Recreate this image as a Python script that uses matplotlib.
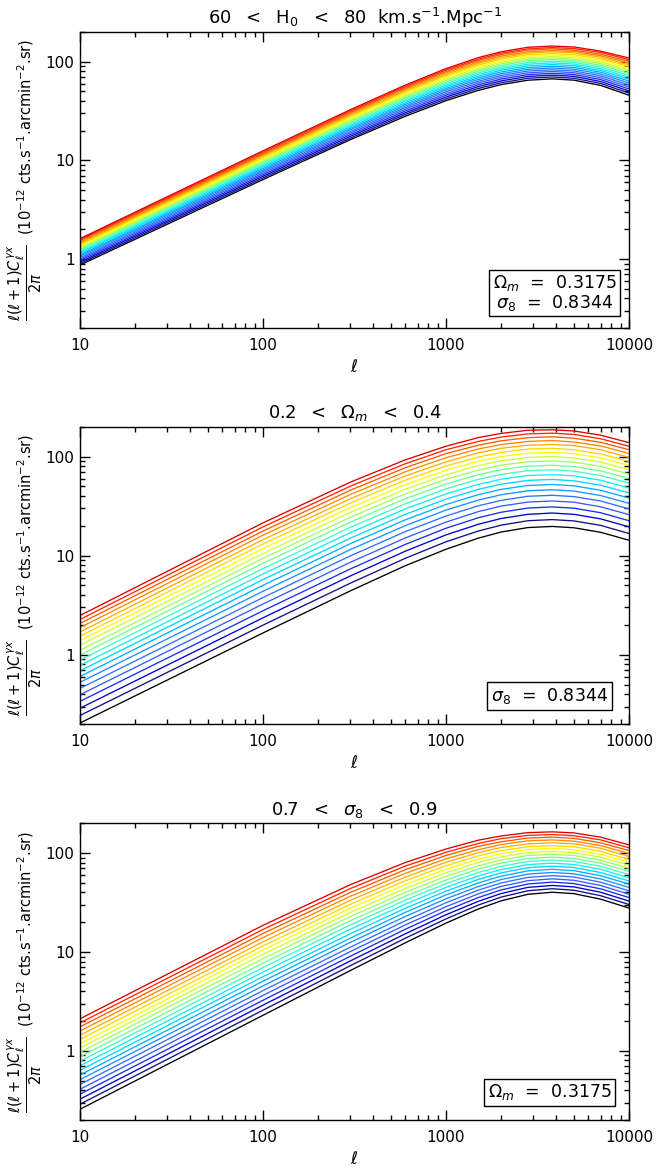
import numpy as np
import matplotlib
matplotlib.use('Agg')
import matplotlib.pyplot as plt
from matplotlib.ticker import LogLocator, NullFormatter, FixedLocator, FixedFormatter

# multipoles at which the curves are read
ell = [10, 100, 300, 600, 1000, 1500, 2000, 2800, 3800, 5000, 7000, 10000]

# Panel 1: H0 = 60 ... 80 km/s/Mpc
h0_vals = list(range(60, 81))
h0_curves = [
    [0.87, 6.39, 16.2, 28, 40.3, 51.2, 58.6, 64.9, 67, 65, 57.5, 45.7],
    [0.901, 6.64, 16.8, 29.2, 42, 53.5, 61.2, 67.9, 70, 67.9, 60.2, 48],
    [0.933, 6.9, 17.5, 30.4, 43.8, 55.9, 63.9, 70.9, 73.1, 71, 63, 50.4],
    [0.966, 7.16, 18.2, 31.7, 45.7, 58.3, 66.7, 74, 76.3, 74.1, 65.9, 52.9],
    [0.999, 7.43, 18.9, 33, 47.6, 60.8, 69.6, 77.1, 79.6, 77.3, 68.8, 55.5],
    [1.03, 7.7, 19.6, 34.3, 49.6, 63.3, 72.5, 80.4, 82.9, 80.5, 71.9, 58.1],
    [1.07, 7.97, 20.4, 35.6, 51.6, 65.9, 75.5, 83.7, 86.4, 83.9, 75, 60.9],
    [1.1, 8.26, 21.1, 37, 53.6, 68.6, 78.6, 87.1, 89.9, 87.4, 78.2, 63.7],
    [1.14, 8.55, 21.9, 38.4, 55.8, 71.4, 81.8, 90.7, 93.5, 90.9, 81.5, 66.6],
    [1.17, 8.84, 22.7, 39.9, 57.9, 74.2, 85, 94.3, 97.3, 94.5, 84.8, 69.6],
    [1.21, 9.14, 23.5, 41.4, 60.1, 77.1, 88.3, 97.9, 101, 98.3, 88.3, 72.7],
    [1.25, 9.45, 24.4, 42.9, 62.4, 80, 91.7, 102, 105, 102, 91.8, 75.9],
    [1.29, 9.76, 25.2, 44.4, 64.7, 83, 95.2, 106, 109, 106, 95.5, 79.1],
    [1.32, 10.1, 26.1, 46, 67.1, 86.1, 98.8, 110, 113, 110, 99.2, 82.5],
    [1.36, 10.4, 26.9, 47.6, 69.5, 89.3, 102, 114, 117, 114, 103, 86],
    [1.4, 10.7, 27.8, 49.3, 72, 92.5, 106, 118, 121, 118, 107, 89.5],
    [1.44, 11.1, 28.7, 50.9, 74.5, 95.8, 110, 122, 126, 123, 111, 93.2],
    [1.48, 11.4, 29.7, 52.7, 77.1, 99.2, 114, 126, 130, 127, 115, 96.9],
    [1.53, 11.7, 30.6, 54.4, 79.7, 103, 118, 131, 135, 131, 119, 101],
    [1.57, 12.1, 31.6, 56.2, 82.4, 106, 122, 135, 139, 136, 124, 105],
    [1.61, 12.5, 32.6, 58, 85.1, 110, 126, 140, 144, 141, 128, 109],
]

# Panel 2: Omega_m = 0.20 ... 0.40
om_vals = [0.20, 0.21, 0.22, 0.23, 0.24, 0.25, 0.26, 0.27, 0.28, 0.29, 0.30,
           0.31, 0.32, 0.33, 0.34, 0.35, 0.36, 0.37, 0.38, 0.39, 0.40]
om_curves = [
    [0.205, 1.66, 4.41, 7.92, 11.6, 15, 17.3, 19.2, 19.7, 19.1, 17.2, 14.3],
    [0.244, 1.99, 5.27, 9.41, 13.8, 17.7, 20.3, 22.5, 23.1, 22.4, 20.2, 16.7],
    [0.289, 2.36, 6.24, 11.1, 16.2, 20.7, 23.7, 26.1, 26.9, 26.1, 23.5, 19.5],
    [0.339, 2.78, 7.34, 13, 18.9, 24.1, 27.4, 30.2, 31, 30.1, 27.1, 22.5],
    [0.395, 3.25, 8.57, 15.1, 21.8, 27.8, 31.6, 34.7, 35.6, 34.6, 31.1, 25.9],
    [0.458, 3.78, 9.94, 17.5, 25.1, 31.8, 36.1, 39.7, 40.6, 39.4, 35.6, 29.6],
    [0.528, 4.37, 11.5, 20.1, 28.8, 36.3, 41.1, 45.1, 46.2, 44.8, 40.4, 33.7],
    [0.604, 5.02, 13.2, 23, 32.8, 41.2, 46.6, 51, 52.2, 50.6, 45.7, 38.1],
    [0.689, 5.74, 15, 26.1, 37.2, 46.6, 52.6, 57.4, 58.7, 56.9, 51.4, 43],
    [0.782, 6.53, 17.1, 29.6, 42, 52.4, 59, 64.3, 65.7, 63.8, 57.7, 48.2],
    [0.883, 7.41, 19.3, 33.4, 47.2, 58.8, 66, 71.9, 73.4, 71.2, 64.4, 53.9],
    [0.994, 8.36, 21.8, 37.5, 52.8, 65.6, 73.6, 80, 81.6, 79.2, 71.7, 60],
    [1.11, 9.4, 24.4, 42, 58.9, 73, 81.8, 88.7, 90.4, 87.8, 79.5, 66.6],
    [1.25, 10.5, 27.3, 46.8, 65.5, 81, 90.5, 98, 99.9, 97, 87.9, 73.7],
    [1.39, 11.8, 30.5, 52, 72.6, 89.5, 99.9, 108, 110, 107, 96.8, 81.2],
    [1.54, 13.1, 33.9, 57.7, 80.3, 98.7, 110, 119, 121, 117, 106, 89.4],
    [1.7, 14.5, 37.5, 63.7, 88.4, 109, 121, 130, 132, 129, 117, 98],
    [1.88, 16.1, 41.4, 70.2, 97.2, 119, 132, 142, 145, 140, 128, 107],
    [2.07, 17.7, 45.7, 77.2, 107, 130, 144, 155, 158, 153, 139, 117],
    [2.27, 19.5, 50.2, 84.6, 117, 142, 157, 169, 172, 167, 151, 127],
    [2.49, 21.4, 55.1, 92.6, 127, 155, 171, 184, 186, 181, 164, 138],
]

# Panel 3: sigma_8 = 0.70 ... 0.90
s8_vals = [0.70, 0.71, 0.72, 0.73, 0.74, 0.75, 0.76, 0.77, 0.78, 0.79, 0.80,
           0.81, 0.82, 0.83, 0.84, 0.85, 0.86, 0.87, 0.88, 0.89, 0.90]
s8_curves = [
    [0.257, 2.29, 6.49, 12.4, 19.6, 27.2, 32.9, 38.3, 40.2, 38.9, 34.2, 27.8],
    [0.289, 2.58, 7.26, 13.8, 21.6, 29.8, 35.9, 41.6, 43.6, 42.1, 37.1, 30.2],
    [0.325, 2.9, 8.12, 15.3, 23.8, 32.5, 39, 45, 47.1, 45.5, 40.2, 32.7],
    [0.365, 3.25, 9.06, 17, 26.2, 35.5, 42.4, 48.7, 50.9, 49.2, 43.5, 35.5],
    [0.409, 3.64, 10.1, 18.8, 28.7, 38.7, 46, 52.6, 54.9, 53.1, 47, 38.4],
    [0.458, 4.07, 11.2, 20.7, 31.5, 42.2, 49.9, 56.8, 59.2, 57.3, 50.8, 41.5],
    [0.512, 4.54, 12.5, 22.9, 34.5, 45.9, 54, 61.3, 63.7, 61.7, 54.8, 44.9],
    [0.571, 5.07, 13.8, 25.2, 37.8, 49.9, 58.4, 66.1, 68.6, 66.4, 59.1, 48.5],
    [0.636, 5.64, 15.3, 27.7, 41.3, 54.1, 63.1, 71.1, 73.7, 71.4, 63.6, 52.3],
    [0.708, 6.27, 17, 30.5, 45.1, 58.7, 68.2, 76.5, 79.1, 76.7, 68.5, 56.3],
    [0.787, 6.97, 18.8, 33.5, 49.1, 63.6, 73.5, 82.2, 84.9, 82.3, 73.6, 60.6],
    [0.873, 7.73, 20.7, 36.7, 53.5, 68.8, 79.2, 88.2, 91, 88.3, 79.1, 65.2],
    [0.967, 8.56, 22.8, 40.2, 58.2, 74.4, 85.3, 94.6, 97.5, 94.6, 84.8, 70],
    [1.07, 9.47, 25.1, 44, 63.3, 80.4, 91.7, 101, 104, 101, 91, 75.2],
    [1.18, 10.5, 27.7, 48.1, 68.7, 86.8, 98.6, 109, 112, 108, 97.5, 80.6],
    [1.31, 11.5, 30.4, 52.6, 74.6, 93.6, 106, 116, 119, 116, 104, 86.4],
    [1.44, 12.7, 33.3, 57.3, 80.8, 101, 114, 124, 127, 124, 112, 92.5],
    [1.59, 14, 36.6, 62.5, 87.5, 108, 122, 133, 136, 132, 119, 99],
    [1.75, 15.4, 40, 68, 94.6, 117, 130, 142, 145, 141, 127, 106],
    [1.92, 16.9, 43.8, 74, 102, 125, 140, 151, 154, 150, 136, 113],
    [2.11, 18.6, 47.9, 80.4, 110, 135, 149, 161, 164, 160, 145, 121],
]

titles = [r'60  $<$  H$_0$  $<$  80  km.s$^{-1}$.Mpc$^{-1}$',
          r'0.2  $<$  $\Omega_m$  $<$  0.4',
          r'0.7  $<$  $\sigma_8$  $<$  0.9']
boxes = [r'$\Omega_m$  =  0.3175' + '\n' + r'$\sigma_8$  =  0.8344',
         r'$\sigma_8$  =  0.8344',
         r'$\Omega_m$  =  0.3175']
x_ticks = [10, 100, 1000, 10000]
x_ticklabels = ['10', '100', '1000', '10000']
y_ticks = [1, 10, 100]
y_ticklabels = ['1', '10', '100']

curve_colors = ['#000000', '#10108a', '#0000d0', '#1a2ef0', '#3a5aff', '#3070ff',
                '#1a90ff', '#00b0ff', '#00d8ff', '#10f0f0', '#40ffc0', '#70ff90',
                '#a0ff60', '#d0ff30', '#ffff00', '#ffd800', '#ffb000', '#ff8800',
                '#ff5a00', '#ff2800', '#dd0000']

fig = plt.figure(figsize=(6.57, 11.68), dpi=100)
axes_pos = [[0.1218, 0.7192, 0.8356, 0.2534],
            [0.1218, 0.3801, 0.8356, 0.2546],
            [0.1218, 0.0411, 0.8356, 0.2540]]
panels = [h0_curves, om_curves, s8_curves]
box_xy = [(0.864, 0.118), (0.855, 0.094), (0.855, 0.093)]

ylab = (r'$\dfrac{\ell(\ell+1)C_\ell^{\gamma x}}{2\pi}$' +
        r'  (10$^{-12}$ cts.s$^{-1}$.arcmin$^{-2}$.sr)')

for k in range(3):
    ax = fig.add_axes(axes_pos[k])
    for i, curve in enumerate(panels[k]):
        ax.plot(ell, curve, color=curve_colors[i], lw=0.95)
    ax.set_xscale('log'); ax.set_yscale('log')
    ax.set_xlim(10, 10000); ax.set_ylim(0.2, 200)
    ax.xaxis.set_major_locator(FixedLocator(x_ticks))
    ax.xaxis.set_major_formatter(FixedFormatter(x_ticklabels))
    ax.yaxis.set_major_locator(FixedLocator(y_ticks))
    ax.yaxis.set_major_formatter(FixedFormatter(y_ticklabels))
    ax.xaxis.set_minor_locator(LogLocator(base=10, subs=np.arange(2, 10)))
    ax.yaxis.set_minor_locator(LogLocator(base=10, subs=np.arange(2, 10)))
    ax.xaxis.set_minor_formatter(NullFormatter()); ax.yaxis.set_minor_formatter(NullFormatter())
    ax.tick_params(which='both', direction='in', top=True, right=True, labelsize=11, width=1.0)
    ax.tick_params(which='major', length=7.5)
    ax.tick_params(which='minor', length=3.8)
    ax.tick_params(axis='x', which='major', pad=7)
    ax.tick_params(axis='y', which='major', pad=4)
    for s in ax.spines.values():
        s.set_linewidth(1.0)
    ax.set_title(titles[k], fontsize=13, pad=6)
    ax.set_xlabel(r'$\ell$', fontsize=12, labelpad=4)
    ax.set_ylabel(ylab, fontsize=10.5, labelpad=1)
    ax.text(box_xy[k][0], box_xy[k][1], boxes[k], transform=ax.transAxes,
            ha='center', va='center', fontsize=12.5, linespacing=0.95,
            bbox=dict(boxstyle='square,pad=0.22', fc='white', ec='black', lw=1.0))

fig.savefig('out.png', dpi=100)
